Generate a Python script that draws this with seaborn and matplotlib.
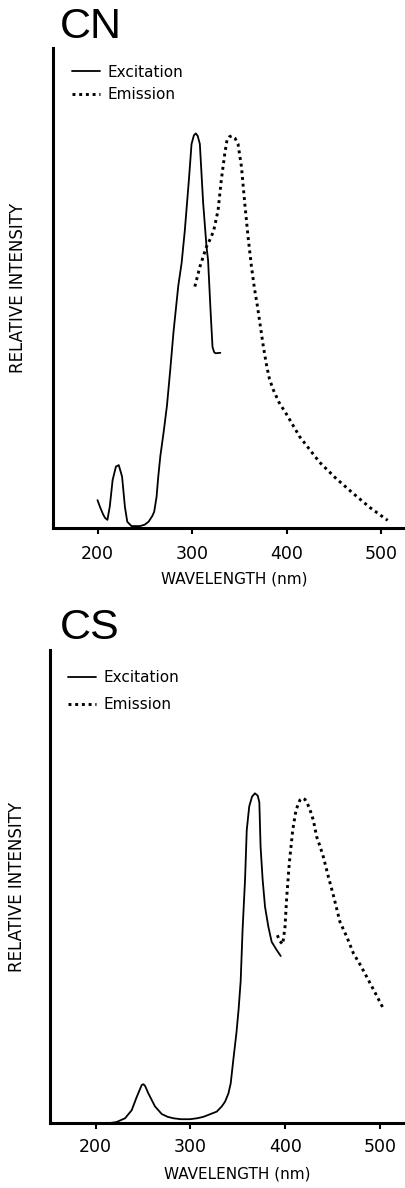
import matplotlib
matplotlib.use("Agg")
import matplotlib.pyplot as plt
import seaborn as sns
import pandas as pd

# ---------------- data ----------------
# Panel CN
cn_ex_wl = [200, 203, 206, 208, 210.5, 213, 216, 219.5, 222.5, 226, 229, 231.5, 236, 245,
            250, 254, 258, 260, 262.5, 264.2, 266.5, 270, 273.5, 277, 280.5, 285.5, 289,
            292.4, 296.7, 299.5, 302, 304, 306, 308.3, 311.8, 315.4, 317, 319.6, 321.7,
            323.5, 325, 330]
cn_ex_int = [0.058, 0.042, 0.028, 0.021, 0.017, 0.045, 0.100, 0.128, 0.131, 0.107, 0.044,
             0.013, 0.004, 0.004, 0.007, 0.013, 0.025, 0.034, 0.065, 0.105, 0.150, 0.200,
             0.255, 0.330, 0.410, 0.505, 0.552, 0.620, 0.725, 0.800, 0.818, 0.822, 0.817,
             0.800, 0.677, 0.585, 0.558, 0.454, 0.377, 0.366, 0.364, 0.365]
cn_em_wl = [303, 308.3, 315.3, 320, 323, 327.6, 331, 334.7, 337, 339.5, 342, 345.5, 348.7,
            352.3, 355.8, 359.3, 362.9, 366, 369, 372, 375.5, 379, 382, 386, 392, 400, 414,
            435, 452, 470, 488, 507]
cn_em_int = [0.503, 0.544, 0.586, 0.605, 0.620, 0.662, 0.725, 0.780, 0.808, 0.815, 0.817,
             0.812, 0.800, 0.753, 0.677, 0.607, 0.545, 0.500, 0.465, 0.425, 0.378, 0.338,
             0.310, 0.288, 0.262, 0.237, 0.190, 0.137, 0.104, 0.073, 0.043, 0.016]

# Panel CS
cs_ex_wl = [215, 222, 231, 238, 243.3, 248.5, 250.2, 252, 255.5, 262.6, 269.7, 276, 282, 290,
            299.5, 307, 313.6, 320, 327.7, 333, 336.5, 340, 342.5, 345.2, 348.5, 350.8, 353,
            355, 357.6, 359.4, 362, 365, 368, 371, 372.7, 374, 376.2, 378.7, 382.2, 385.7,
            390.9, 395.3]
cs_ex_int = [0.000, 0.002, 0.010, 0.027, 0.055, 0.080, 0.082, 0.079, 0.063, 0.035, 0.019,
             0.013, 0.010, 0.008, 0.008, 0.010, 0.013, 0.018, 0.024, 0.035, 0.045, 0.062,
             0.084, 0.133, 0.190, 0.240, 0.300, 0.408, 0.514, 0.619, 0.669, 0.690, 0.697,
             0.692, 0.678, 0.584, 0.514, 0.457, 0.415, 0.383, 0.366, 0.353]
cs_em_wl = [391.7, 394.5, 397.4, 399.8, 401.6, 404.3, 407.9, 411.4, 415.6, 418, 420.9, 423.5,
            426.2, 429.7, 433.2, 436.9, 440.2, 445.5, 451, 457.8, 464.9, 471.9, 479, 486,
            495, 503.5]
cs_em_int = [0.397, 0.384, 0.378, 0.415, 0.478, 0.549, 0.619, 0.662, 0.683, 0.687, 0.684,
             0.675, 0.662, 0.640, 0.605, 0.584, 0.563, 0.521, 0.480, 0.425, 0.394, 0.359,
             0.335, 0.309, 0.275, 0.242]

x_ticks = [200, 300, 400, 500]
series_labels = ["Excitation", "Emission"]
panel_titles = ["CN", "CS"]
x_label = "WAVELENGTH (nm)"
y_label = "RELATIVE INTENSITY"

# ---------------- styling ----------------
sns.set_style("white")
plt.rcParams["font.family"] = ["DejaVu Sans"]
plt.rcParams["text.color"] = "black"
plt.rcParams["axes.labelcolor"] = "black"
plt.rcParams["xtick.color"] = "black"

fig = plt.figure(figsize=(4.05, 11.88), dpi=100)
W, H = 405.0, 1188.0
ax1 = fig.add_axes([53 / W, (H - 528) / H, 352 / W, 480 / H])
ax2 = fig.add_axes([50 / W, (H - 1123) / H, 355 / W, 473 / H])

panels = [
    dict(ax=ax1, ex=(cn_ex_wl, cn_ex_int), em=(cn_em_wl, cn_em_int), title=panel_titles[0],
         xlim=(152.9, 525.4), leg=(0.053, 0.9656), lspace=0.5, title_pos=(0.02, 1.020),
         xlab=(0.5156, -0.0896), ylab=(-0.0733, 0.5), pad=8),
    dict(ax=ax2, ex=(cs_ex_wl, cs_ex_int), em=(cs_em_wl, cs_em_int), title=panel_titles[1],
         xlim=(151.8, 526.4), leg=(0.0515, 0.958), lspace=0.8, title_pos=(0.028, 1.023),
         xlab=(0.528, -0.092), ylab=(-0.0687, 0.5), pad=7),
]

for p in panels:
    ax = p["ax"]
    ex = pd.DataFrame({"wl": p["ex"][0], "int": p["ex"][1]})
    em = pd.DataFrame({"wl": p["em"][0], "int": p["em"][1]})
    sns.lineplot(data=ex, x="wl", y="int", ax=ax, color="black", lw=1.3,
                 label=series_labels[0], estimator=None, sort=False)
    sns.lineplot(data=em, x="wl", y="int", ax=ax, color="black", lw=2.1,
                 linestyle=(0, (1, 1.3)), label=series_labels[1], estimator=None, sort=False)

    ax.set_xlim(*p["xlim"])
    ax.set_ylim(0, 1)
    ax.set_xticks(x_ticks)
    ax.set_yticks([])
    for s in ["top", "right"]:
        ax.spines[s].set_visible(False)
    for s in ["left", "bottom"]:
        ax.spines[s].set_linewidth(2.2)
        ax.spines[s].set_color("black")
    ax.tick_params(axis="x", bottom=True, direction="out", length=4, width=1.5,
                   pad=p["pad"], labelsize=12.5, colors="black")

    ax.set_xlabel(x_label, fontsize=11, color="black")
    ax.xaxis.set_label_coords(*p["xlab"])
    ax.set_ylabel(y_label, fontsize=12, color="black")
    ax.yaxis.set_label_coords(*p["ylab"])

    ax.text(p["title_pos"][0], p["title_pos"][1], p["title"], transform=ax.transAxes,
            fontsize=31, ha="left", va="baseline", color="black",
            family=["Liberation Sans Narrow", "Liberation Sans", "DejaVu Sans"])

    leg = ax.legend(loc="upper left", bbox_to_anchor=p["leg"], frameon=False, fontsize=11,
                    handlelength=1.83, handletextpad=0.5, labelspacing=p["lspace"],
                    borderpad=0, borderaxespad=0)
    for t in leg.get_texts():
        t.set_color("black")

fig.savefig("out.png", dpi=100)
